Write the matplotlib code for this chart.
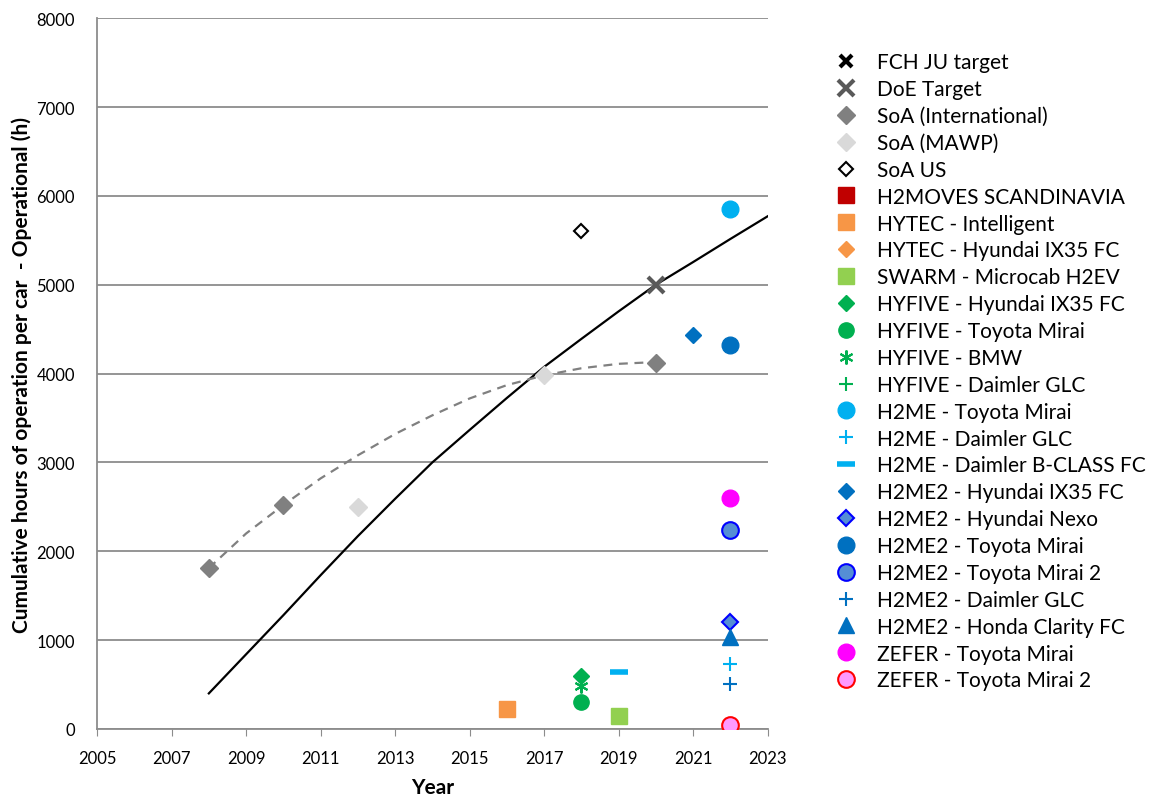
import numpy as np
import matplotlib.pyplot as plt
from matplotlib.lines import Line2D

plt.rcParams['font.family'] = ['Lato', 'DejaVu Sans']

# trend lines
trend_years = [2008, 2009, 2010, 2011, 2012, 2013, 2014, 2015, 2016, 2017,
               2018, 2019, 2020, 2021, 2022, 2023]
trend_target = [400, 840, 1280, 1730, 2170, 2590, 3000, 3365, 3725, 4075,
                4390, 4700, 5000, 5255, 5515, 5770]
soa_years = [2008, 2009, 2010, 2011, 2012, 2013, 2014, 2015, 2016, 2017,
             2018, 2019, 2020]
soa_trend = [1810, 2200, 2520, 2820, 3080, 3320, 3530, 3720, 3870, 3980,
             4060, 4110, 4130]

# series: label, years, hours
series = [
    ("FCH JU target", [], []),
    ("DoE Target", [2020], [5000]),
    ("SoA (International)", [2008, 2010, 2020], [1810, 2520, 4120]),
    ("SoA (MAWP)", [2012, 2017], [2500, 3980]),
    ("SoA US", [2018], [5600]),
    ("H2MOVES SCANDINAVIA", [], []),
    ("HYTEC - Intelligent", [2016], [220]),
    ("HYTEC - Hyundai IX35 FC", [], []),
    ("SWARM - Microcab H2EV", [2019], [150]),
    ("HYFIVE - Hyundai IX35 FC", [2018], [600]),
    ("HYFIVE - Toyota Mirai", [2018], [300]),
    ("HYFIVE - BMW", [2018], [480]),
    ("HYFIVE - Daimler GLC", [], []),
    ("H2ME - Toyota Mirai", [2022], [5850]),
    ("H2ME - Daimler GLC", [2022], [730]),
    ("H2ME - Daimler B-CLASS FC", [2019], [640]),
    ("H2ME2 - Hyundai IX35 FC", [2021], [4440]),
    ("H2ME2 - Hyundai Nexo", [2022], [1200]),
    ("H2ME2 - Toyota Mirai", [2022], [4320]),
    ("H2ME2 - Toyota Mirai 2", [2022], [2240]),
    ("H2ME2 - Daimler GLC", [2022], [510]),
    ("H2ME2 - Honda Clarity FC", [2022], [1030]),
    ("ZEFER - Toyota Mirai", [2022], [2600]),
    ("ZEFER - Toyota Mirai 2", [2022], [40]),
]

styles = {
    "FCH JU target": dict(marker='x', color='black', ms=9, mew=3),
    "DoE Target": dict(marker='x', color='#595959', ms=11, mew=3),
    "SoA (International)": dict(marker='D', color='#808080', ms=9),
    "SoA (MAWP)": dict(marker='D', color='#d9d9d9', ms=9),
    "SoA US": dict(marker='D', mfc='white', mec='black', ms=7, mew=1.5),
    "H2MOVES SCANDINAVIA": dict(marker='s', color='#c00000', ms=11),
    "HYTEC - Intelligent": dict(marker='s', color='#f79646', ms=11),
    "HYTEC - Hyundai IX35 FC": dict(marker='D', color='#f79646', ms=8),
    "SWARM - Microcab H2EV": dict(marker='s', color='#92d050', ms=11),
    "HYFIVE - Hyundai IX35 FC": dict(marker='D', color='#00b050', ms=8),
    "HYFIVE - Toyota Mirai": dict(marker='o', color='#00b050', ms=11),
    "HYFIVE - BMW": dict(marker=(6, 2, 0), color='#00b050', ms=10, mew=1.5),
    "HYFIVE - Daimler GLC": dict(marker='+', color='#00b050', ms=10, mew=1.5),
    "H2ME - Toyota Mirai": dict(marker='o', color='#00b0f0', ms=12),
    "H2ME - Daimler GLC": dict(marker='+', color='#00b0f0', ms=10, mew=1.5),
    "H2ME - Daimler B-CLASS FC": dict(marker='_', color='#00b0f0', ms=13, mew=4),
    "H2ME2 - Hyundai IX35 FC": dict(marker='D', color='#0070c0', ms=8),
    "H2ME2 - Hyundai Nexo": dict(marker='D', mfc='#558ed5', mec='#0000ff', ms=8, mew=1.5),
    "H2ME2 - Toyota Mirai": dict(marker='o', color='#0070c0', ms=12),
    "H2ME2 - Toyota Mirai 2": dict(marker='o', mfc='#558ed5', mec='#0000ff', ms=12, mew=1.5),
    "H2ME2 - Daimler GLC": dict(marker='+', color='#0070c0', ms=10, mew=1.5),
    "H2ME2 - Honda Clarity FC": dict(marker='^', color='#0070c0', ms=12),
    "ZEFER - Toyota Mirai": dict(marker='o', color='#ff00ff', ms=12),
    "ZEFER - Toyota Mirai 2": dict(marker='o', mfc='#ff99ff', mec='#ff0000', ms=12, mew=1.5),
}

fig = plt.figure(figsize=(11.7, 8.03), dpi=100)
ax = fig.add_axes([0.083, 0.091, 0.573, 0.885])

ax.plot(trend_years, trend_target, color='black', lw=1.6, zorder=2)
ax.plot(soa_years, soa_trend, color='#808080', lw=1.6, ls=(0, (4, 3)), zorder=2)

handles = []
for label, xs, ys in series:
    st = styles[label]
    ax.plot(xs, ys, ls='none', zorder=3, **st)
    handles.append(Line2D([], [], ls='none', label=label, **st))

ax.set_xlim(2005, 2023)
ax.set_ylim(0, 8000)
ax.set_xticks(np.arange(2005, 2024, 2))
ax.set_yticks(np.arange(0, 8001, 1000))
ax.yaxis.grid(True, color='#8c8c8c', lw=1.3)
ax.set_axisbelow(True)
for s in ['top', 'right']:
    ax.spines[s].set_visible(False)
for s in ['left', 'bottom']:
    ax.spines[s].set_color('#8c8c8c')
    ax.spines[s].set_linewidth(1.3)
ax.tick_params(axis='y', length=0, labelsize=12, pad=16)
ax.tick_params(axis='x', length=5, color='#8c8c8c', labelsize=12, direction='out', pad=10)

ax.set_xlabel('Year', fontsize=15, fontweight='bold', labelpad=8)
ax.set_ylabel('Cumulative hours of operation per car  - Operational (h)',
              fontsize=15, fontweight='bold', labelpad=3)

fig.legend(handles=handles, loc='upper left', bbox_to_anchor=(0.705, 0.944),
           frameon=False, fontsize=15, labelspacing=0.33, handletextpad=0.9,
           borderaxespad=0, handlelength=1.2)

fig.savefig('out.png', dpi=100)
